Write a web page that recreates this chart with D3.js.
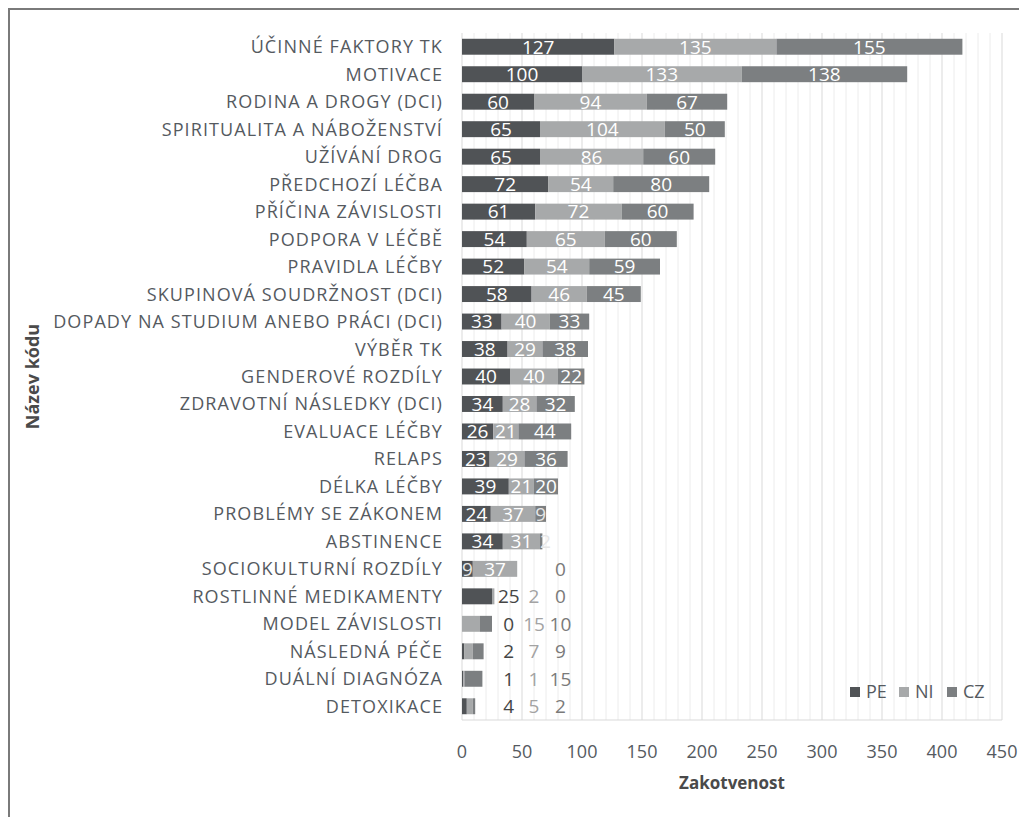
<!DOCTYPE html>
<html>
<head>
<meta charset="utf-8">
<script src="https://cdn.jsdelivr.net/npm/d3@7"></script>
<style>
  body { margin: 0; background: #fff; }
  svg { display: block; font-family: "Open Sans", sans-serif; }
</style>
</head>
<body>
<svg id="chart" width="1019" height="817"></svg>
<script>
// categories, top to bottom
var categories = [
  "ÚČINNÉ FAKTORY TK", "MOTIVACE", "RODINA A DROGY (DCI)", "SPIRITUALITA A NÁBOŽENSTVÍ",
  "UŽÍVÁNÍ DROG", "PŘEDCHOZÍ LÉČBA", "PŘÍČINA ZÁVISLOSTI", "PODPORA V LÉČBĚ",
  "PRAVIDLA LÉČBY", "SKUPINOVÁ SOUDRŽNOST (DCI)", "DOPADY NA STUDIUM ANEBO PRÁCI (DCI)",
  "VÝBĚR TK", "GENDEROVÉ ROZDÍLY", "ZDRAVOTNÍ NÁSLEDKY (DCI)", "EVALUACE LÉČBY", "RELAPS",
  "DÉLKA LÉČBY", "PROBLÉMY SE ZÁKONEM", "ABSTINENCE", "SOCIOKULTURNÍ ROZDÍLY",
  "ROSTLINNÉ MEDIKAMENTY", "MODEL ZÁVISLOSTI", "NÁSLEDNÁ PÉČE", "DUÁLNÍ DIAGNÓZA", "DETOXIKACE"
];
var seriesNames = ["PE", "NI", "CZ"];
var PE = [127, 100, 60, 65, 65, 72, 61, 54, 52, 58, 33, 38, 40, 34, 26, 23, 39, 24, 34, 9, 25, 0, 2, 1, 4];
var NI = [135, 133, 94, 104, 86, 54, 72, 65, 54, 46, 40, 29, 40, 28, 21, 29, 21, 37, 31, 37, 2, 15, 7, 1, 5];
var CZ = [155, 138, 67, 50, 60, 80, 60, 60, 59, 45, 33, 38, 22, 32, 44, 36, 20, 9, 2, 0, 0, 10, 9, 15, 2];
var xTicks = [0, 50, 100, 150, 200, 250, 300, 350, 400, 450];
// labels of tiny bars sit off to the right, one slot per series (value units)
var outsideSlots = [39, 60, 82];

var colors = ["#505356", "#a7a9aa", "#7c7f81"];
var outsideText = ["#454545", "#a3a3a3", "#7a7a7a"];

var svg = d3.select("#chart");
var plotLeft = 462, plotRight = 1002, plotTop = 33, plotBottom = 720;

var rows = categories.map(function (c, i) {
  return { cat: c, PE: PE[i], NI: NI[i], CZ: CZ[i] };
});
var stack = d3.stack().keys(seriesNames)(rows);

var x = d3.scaleLinear().domain([0, 450]).range([plotLeft, plotRight]);
var y = d3.scaleBand().domain(categories).range([plotTop, plotBottom]).paddingInner(0.42).paddingOuter(0.21);

// frame
svg.append("path").attr("d", "M9,817 V9 H1019").attr("fill", "none").attr("stroke", "#7a7a7a").attr("stroke-width", 2);

// grid, minor every 10, major every 50
svg.append("g").selectAll("line").data(d3.range(10, 451, 10)).join("line")
  .attr("x1", d => x(d)).attr("x2", d => x(d))
  .attr("y1", plotTop).attr("y2", plotBottom)
  .attr("stroke", d => d % 50 === 0 ? "#d9d9d9" : "#ececec").attr("stroke-width", 1);
svg.append("line").attr("x1", x(0)).attr("x2", x(450)).attr("y1", plotBottom).attr("y2", plotBottom)
  .attr("stroke", "#d9d9d9");
svg.append("line").attr("x1", x(0)).attr("x2", x(0)).attr("y1", plotTop).attr("y2", plotBottom)
  .attr("stroke", "#d9d9d9");

// bars
var layers = svg.append("g").selectAll("g").data(stack).join("g")
  .attr("fill", (d, i) => colors[i]);
layers.selectAll("rect").data(d => d).join("rect")
  .attr("x", d => x(d[0]))
  .attr("y", d => y(d.data.cat))
  .attr("width", d => x(d[1]) - x(d[0]))
  .attr("height", y.bandwidth());

// value labels
stack.forEach(function (layer, si) {
  layer.forEach(function (d, ri) {
    var total = PE[ri] + NI[ri] + CZ[ri];
    var v = d[1] - d[0];
    var outside = total < 45 || v === 0;
    var cy = y(d.data.cat) + y.bandwidth() / 2;
    var t = svg.append("text")
      .attr("y", cy).attr("dy", "0.36em")
      .attr("text-anchor", "middle")
      .attr("font-size", 19)
      .text(v);
    if (outside) {
      t.attr("x", x(outsideSlots[si])).attr("fill", outsideText[si]);
    } else {
      var w = x(d[1]) - x(d[0]);
      t.attr("x", (x(d[0]) + x(d[1])) / 2).attr("fill", "#fff");
      if (w < 14) t.attr("x", x(d[0])).attr("text-anchor", "start").attr("fill", "#e6e6e6");
    }
  });
});

// category labels
svg.append("g").selectAll("text").data(categories).join("text")
  .attr("x", 443)
  .attr("y", d => y(d) + y.bandwidth() / 2)
  .attr("dy", "0.36em")
  .attr("text-anchor", "end")
  .attr("font-size", 18)
  .attr("letter-spacing", 1.1)
  .attr("fill", "#555a5f")
  .text(d => d);

// x tick labels
svg.append("g").selectAll("text").data(xTicks).join("text")
  .attr("x", d => x(d)).attr("y", 752).attr("dy", "0.36em")
  .attr("text-anchor", "middle").attr("font-size", 18).attr("fill", "#555a5f")
  .text(d => d);

// axis titles
svg.append("text").attr("x", (plotLeft + plotRight) / 2).attr("y", 783).attr("dy", "0.36em")
  .attr("text-anchor", "middle").attr("font-size", 17).attr("font-weight", "bold").attr("fill", "#4a4a4a")
  .text("Zakotvenost");
svg.append("text").attr("transform", "translate(33," + (plotTop + plotBottom) / 2 + ") rotate(-90)")
  .attr("dy", "0.36em")
  .attr("text-anchor", "middle").attr("font-size", 18).attr("font-weight", "bold").attr("fill", "#4a4a4a")
  .text("Název kódu");

// legend
var legendX = [850, 899, 947];
var lg = svg.append("g").selectAll("g").data(seriesNames).join("g")
  .attr("transform", (d, i) => "translate(" + legendX[i] + ",687)");
lg.append("rect").attr("width", 10).attr("height", 10).attr("fill", (d, i) => colors[i]);
lg.append("text").attr("x", 16).attr("y", 5).attr("dy", "0.36em").attr("font-size", 18)
  .attr("fill", "#555a5f").text(d => d);
</script>
</body>
</html>
